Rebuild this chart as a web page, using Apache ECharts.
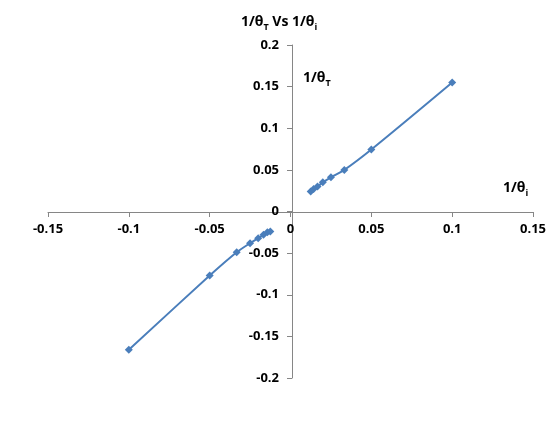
<!DOCTYPE html>
<html>
<head>
<meta charset="utf-8">
<script src="https://cdn.jsdelivr.net/npm/echarts@6/dist/echarts.min.js"></script>
<style>
  html, body { margin: 0; padding: 0; background: #fff; }
  #chart { width: 560px; height: 425px; }
</style>
</head>
<body>
<div id="chart"></div>
<script>
// 1/theta_i values and matching 1/theta_T readings
const xPositive = [0.0125, 0.0143, 0.0167, 0.02, 0.025, 0.0333, 0.05, 0.1];
const yPositive = [0.024, 0.027, 0.030, 0.035, 0.041, 0.050, 0.0745, 0.155];
const xNegative = [-0.1, -0.05, -0.0333, -0.025, -0.02, -0.0167, -0.0143, -0.0125];
const yNegative = [-0.166, -0.077, -0.049, -0.038, -0.032, -0.028, -0.025, -0.024];

const seriesColor = '#4a7ebb';
const fontFamily = 'Open Sans, Noto Sans, sans-serif';

function pairs(xs, ys) {
    return xs.map((x, i) => [x, ys[i]]);
}

const chart = echarts.init(document.getElementById('chart'));

const richText = {
    m: { fontSize: 14, fontWeight: 'bold', fontFamily: fontFamily, color: '#000', lineHeight: 20, verticalAlign: 'bottom' },
    s: { fontSize: 9, fontWeight: 'bold', fontFamily: fontFamily, color: '#000', lineHeight: 20, verticalAlign: 'bottom', padding: [0, 0, -3, 0] }
};

// grid box: left 48, right 533, top 45, bottom 378 -> zero lines at x=292, y=212
chart.setOption({
    animation: false,
    title: [
        { text: '{m|1/θ}{s|T}{m| Vs 1/θ}{s|i}', left: 236, top: 4, textStyle: { rich: richText } },
        { text: '{m|1/θ}{s|T}', left: 298, top: 60, textStyle: { rich: richText } },
        { text: '{m|1/θ}{s|i}', left: 498, top: 170, textStyle: { rich: richText } }
    ],
    grid: { left: 48, right: 27, top: 45, bottom: 47 },
    xAxis: {
        type: 'value',
        min: -0.15,
        max: 0.15,
        interval: 0.05,
        offset: -166,
        splitLine: { show: false },
        axisLine: { onZero: false, lineStyle: { color: '#868686' } },
        axisTick: { show: true, length: 5, lineStyle: { color: '#868686' } },
        axisLabel: { fontSize: 13, fontWeight: 'bold', fontFamily: fontFamily, color: '#000', margin: 11 }
    },
    yAxis: {
        type: 'value',
        min: -0.2,
        max: 0.2,
        interval: 0.05,
        offset: -244,
        splitLine: { show: false },
        axisLine: { show: true, onZero: false, lineStyle: { color: '#868686' } },
        axisTick: { show: true, length: 5, lineStyle: { color: '#868686' } },
        axisLabel: { fontSize: 13, fontWeight: 'bold', fontFamily: fontFamily, color: '#000', margin: 13 }
    },
    series: [
        {
            type: 'line',
            data: pairs(xPositive, yPositive),
            smooth: 0.3,
            symbol: 'diamond',
            symbolSize: 8,
            itemStyle: { color: seriesColor },
            lineStyle: { color: seriesColor, width: 2 }
        },
        {
            type: 'line',
            data: pairs(xNegative, yNegative),
            smooth: 0.3,
            symbol: 'diamond',
            symbolSize: 8,
            itemStyle: { color: seriesColor },
            lineStyle: { color: seriesColor, width: 2 }
        }
    ]
});
</script>
</body>
</html>
